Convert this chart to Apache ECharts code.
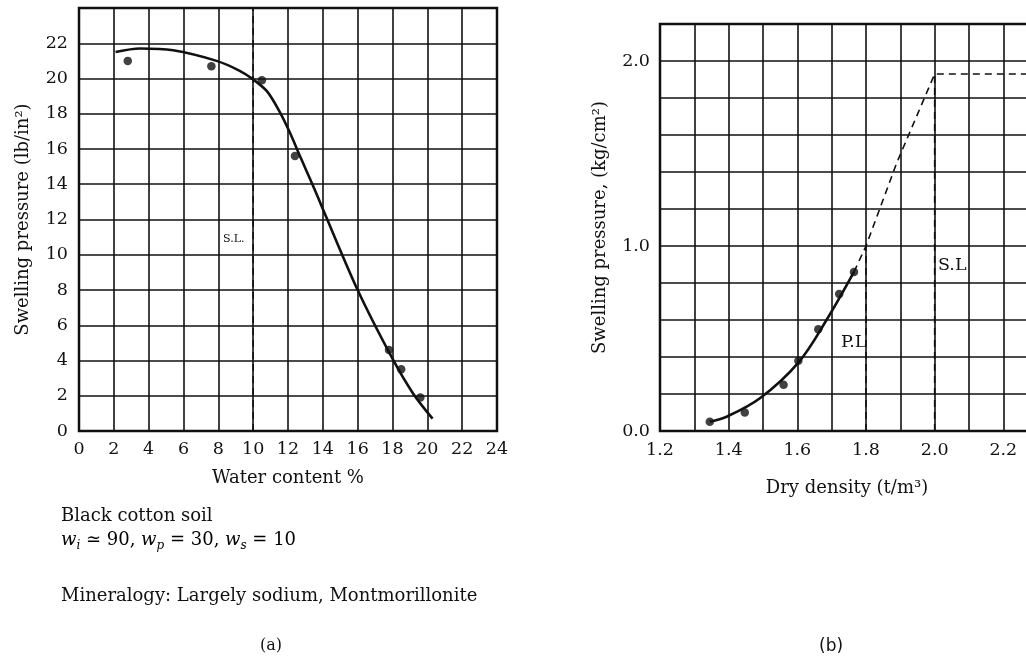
<!DOCTYPE html>
<html><head><meta charset="utf-8">
<script src="https://cdn.jsdelivr.net/npm/echarts@6/dist/echarts.min.js"></script>
<style>html,body{margin:0;padding:0;background:#fff}#c{width:1026px;height:663px}</style>
</head><body><div id="c"></div>
<script>
// ---- Chart (a): swelling pressure vs water content ----
const aPoints = [[2.8,21.0],[7.6,20.7],[10.5,19.9],[12.4,15.6],[17.8,4.6],[18.5,3.5],[19.6,1.9]];
const aCurve = [[2.1,21.5],[3.5,21.7],[5.4,21.6],[7.9,21.0],[9.2,20.45],[10.0,19.95],[10.8,19.27],[11.5,18.15],[12.1,16.95],[12.7,15.57],[13.4,14.0],[14.0,12.6],[16.0,8.0],[18.0,4.1],[19.2,2.1],[20.3,0.7]];
const aShrinkLimit = [[10,0],[10,24]];
const aXTicks = [0,2,4,6,8,10,12,14,16,18,20,22,24];
const aYTicks = [0,2,4,6,8,10,12,14,16,18,20,22];

// ---- Chart (b): swelling pressure vs dry density ----
const bPoints = [[1.345,0.05],[1.447,0.10],[1.56,0.25],[1.603,0.38],[1.661,0.55],[1.722,0.74],[1.765,0.86]];
const bCurve = [[1.345,0.05],[1.394,0.077],[1.491,0.177],[1.603,0.37],[1.685,0.60],[1.765,0.86]];
const bDashedCurve = [[1.765,0.86],[1.8,1.0],[1.889,1.447],[2.0,1.93],[2.4,1.93]];
const bPlasticLimit = [[1.8,0],[1.8,1.0]];
const bShrinkLimit = [[2.0,0],[2.0,1.93]];
const bYLabels = ['0.0','1.0','2.0'];

const serif = '"DejaVu Serif","Liberation Serif",serif';
const FS = 17.5;
const TS = 18;
const black = '#111';
const chart = echarts.init(document.getElementById('c'));

function fmtB(v){ const t=Math.round(v*10); return t%2===0 ? (t/10).toFixed(1) : ''; }
function fmtBY(v){ const s=v.toFixed(1); return bYLabels.indexOf(s)>=0 ? s : ''; }

const splitStyle = {show:true, lineStyle:{color:black, width:1.6}};
const dash = [7,5];

chart.setOption({
  animation:false,
  backgroundColor:'#fff',
  grid:[
    {left:79, top:8, width:418, height:423, show:true, borderColor:black, borderWidth:2.5, backgroundColor:'transparent', outerBoundsMode:'none', containLabel:false},
    {left:660, top:24, width:412, height:407, show:true, borderColor:black, borderWidth:2.5, backgroundColor:'transparent', outerBoundsMode:'none', containLabel:false}
  ],
  xAxis:[
    {gridIndex:0, type:'value', min:0, max:24, interval:2,
     axisLine:{show:false}, axisTick:{show:false}, splitLine:splitStyle,
     axisLabel:{color:black, fontFamily:serif, fontSize:FS, margin:9,
       formatter:v=>aXTicks.indexOf(v)>=0?String(v):''},
     name:'Water content %', nameLocation:'middle', nameGap:38,
     nameTextStyle:{color:black, fontFamily:serif, fontSize:TS}},
    {gridIndex:1, type:'value', min:1.2, max:2.4, interval:0.1,
     axisLine:{show:false}, axisTick:{show:false}, splitLine:splitStyle,
     axisLabel:{color:black, fontFamily:serif, fontSize:FS, margin:10, formatter:fmtB},
     name:'Dry density (t/m³)', nameLocation:'middle', nameGap:48,
     nameTextStyle:{color:black, fontFamily:serif, fontSize:TS, padding:[0,38,0,0]}}
  ],
  yAxis:[
    {gridIndex:0, type:'value', min:0, max:24, interval:2,
     axisLine:{show:false}, axisTick:{show:false}, splitLine:splitStyle,
     axisLabel:{color:black, fontFamily:serif, fontSize:FS, margin:11,
       formatter:v=>aYTicks.indexOf(v)>=0?String(v):''},
     name:'Swelling pressure (lb/in²)', nameLocation:'middle', nameGap:47,
     nameTextStyle:{color:black, fontFamily:serif, fontSize:TS}},
    {gridIndex:1, type:'value', min:0, max:2.2, interval:0.2,
     axisLine:{show:false}, axisTick:{show:false}, splitLine:splitStyle,
     axisLabel:{color:black, fontFamily:serif, fontSize:FS, margin:10, formatter:fmtBY},
     name:'Swelling pressure, (kg/cm²)', nameLocation:'middle', nameGap:51,
     nameTextStyle:{color:black, fontFamily:serif, fontSize:TS}}
  ],
  series:[
    {type:'line', xAxisIndex:0, yAxisIndex:0, data:aShrinkLimit, symbol:'none',
     lineStyle:{color:black, width:1.6, type:dash}},
    {type:'line', xAxisIndex:0, yAxisIndex:0, data:aCurve, symbol:'none', smooth:0.3,
     lineStyle:{color:black, width:2.6}},
    {type:'scatter', xAxisIndex:0, yAxisIndex:0, data:aPoints, symbol:'circle', symbolSize:8.5,
     itemStyle:{color:black}},
    {type:'line', xAxisIndex:1, yAxisIndex:1, data:bPlasticLimit, symbol:'none',
     lineStyle:{color:black, width:1.6, type:dash}},
    {type:'line', xAxisIndex:1, yAxisIndex:1, data:bShrinkLimit, symbol:'none',
     lineStyle:{color:black, width:1.6, type:dash}},
    {type:'line', xAxisIndex:1, yAxisIndex:1, data:bDashedCurve, symbol:'none',
     lineStyle:{color:black, width:1.6, type:dash}},
    {type:'line', xAxisIndex:1, yAxisIndex:1, data:bCurve, symbol:'none', smooth:0.35,
     lineStyle:{color:black, width:2.6}},
    {type:'scatter', xAxisIndex:1, yAxisIndex:1, data:bPoints, symbol:'circle', symbolSize:8.5,
     itemStyle:{color:black}}
  ],
  graphic:[
    {type:'text', left:223, top:234, style:{text:'S.L.', font:'11px '+serif, fill:black}},
    {type:'text', left:841, top:333, style:{text:'P.L', font:FS+'px '+serif, fill:black}},
    {type:'text', left:938, top:256, style:{text:'S.L', font:FS+'px '+serif, fill:black}},
    {type:'text', left:61, top:507, style:{text:'Black cotton soil', font:TS+'px '+serif, fill:black}},
    {type:'text', left:61, top:531, style:{
      text:'{i|w}{s|i}{n| ≃ 90, }{i|w}{s|p}{n| = 30, }{i|w}{s|s}{n| = 10}',
      rich:{
        n:{fontFamily:serif, fontSize:TS, color:black},
        i:{fontFamily:serif, fontSize:TS, fontStyle:'italic', color:black},
        s:{fontFamily:serif, fontSize:12, fontStyle:'italic', color:black, padding:[11,0,0,0]}
      }}},
    {type:'text', left:61, top:587, style:{text:'Mineralogy: Largely sodium, Montmorillonite', font:TS+'px '+serif, fill:black}},
    {type:'text', left:260, top:638, style:{text:'(a)', font:'16px '+serif, fill:black}},
    {type:'text', left:819, top:638, style:{text:'(b)', font:'17px "DejaVu Sans",sans-serif', fill:black}}
  ]
});
</script>
</body></html>
